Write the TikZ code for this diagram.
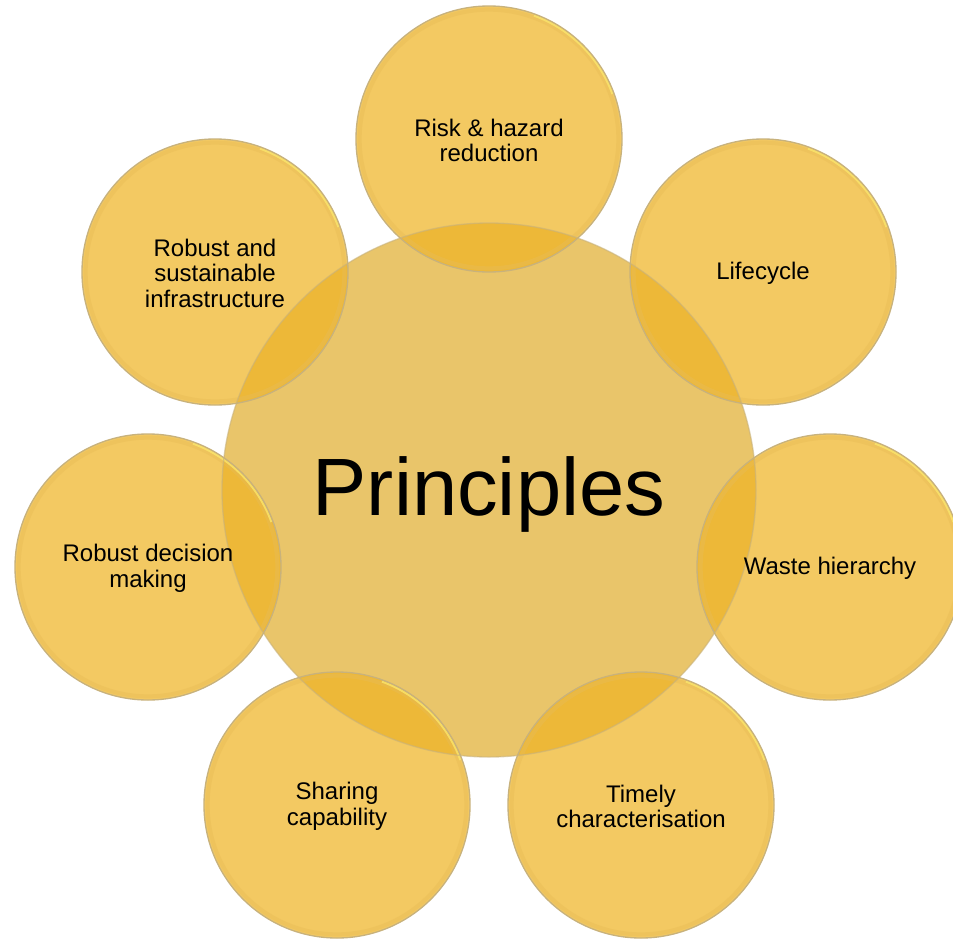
\documentclass[tikz,border=0pt]{standalone}
\usepackage{fontspec}
\setmainfont{Liberation Sans}
\definecolor{satfill}{HTML}{F3C962}
\definecolor{cenfill}{HTML}{E9C56A}
\definecolor{ovfill}{HTML}{EDB838}
\definecolor{rim}{HTML}{C8B27C}
\definecolor{innerring}{HTML}{E8BC56}
\definecolor{glow}{HTML}{FAE56C}
\pgfdeclarelayer{background}
\pgfsetlayers{background,main}
\begin{document}
\begin{tikzpicture}[x=0.75pt,y=-0.75pt,
  sattext/.style={align=center, font=\fontsize{18}{19}\selectfont, text=black, yshift=-1pt},
  centext/.style={font=\fontsize{61}{64}\selectfont, text=black, yshift=-3pt},
  rimline/.style={draw=rim, line width=1pt},
  ringline/.style={draw=innerring, line width=3pt, opacity=0.45}]
\useasboundingbox (0,0) rectangle (953,939);

\coordinate (c-cen) at (489,490);
\coordinate (c-risk) at (489,139);
\coordinate (c-life) at (763,272);
\coordinate (c-waste) at (830,567);
\coordinate (c-timely) at (641,805);
\coordinate (c-share) at (337,805);
\coordinate (c-decide) at (148,567);
\coordinate (c-infra) at (215,272);

\node[centext] (cen) at (c-cen) {Principles};
\node[sattext] (risk) at (c-risk) {Risk \& hazard\\reduction};
\node[sattext] (life) at (c-life) {Lifecycle};
\node[sattext] (waste) at (c-waste) {Waste hierarchy};
\node[sattext] (timely) at (c-timely) {Timely\\characterisation};
\node[sattext] (share) at (c-share) {Sharing\\capability};
\node[sattext] (decide) at (c-decide) {Robust decision\\making};
\node[sattext] (infra) at (c-infra) {Robust and\\sustainable\\infrastructure};

\begin{pgfonlayer}{background}
\fill[white] (0,0) rectangle (953,939);
\fill[cenfill] (c-cen) circle [radius=200.25pt];
\foreach \s in {risk,life,waste,timely,share,decide,infra}{
  \fill[satfill] (c-\s) circle [radius=99.75pt];
  \begin{scope}
    \clip (c-cen) circle [radius=200.25pt];
    \fill[ovfill] (c-\s) circle [radius=99.75pt];
  \end{scope}
}
\foreach \s in {risk,life,waste,timely,share,decide,infra}{
  \draw[ringline] (c-\s) circle [radius=97pt];
  \draw[glow, line width=1.5pt, opacity=0.8] ([shift={(20:98.5pt)}]c-\s) arc[start angle=20, end angle=70, radius=98.5pt];
  \draw[rimline] (c-\s) circle [radius=99.75pt];
}
\draw[rimline, draw opacity=0.6] (c-cen) circle [radius=200.25pt];
\end{pgfonlayer}
\end{tikzpicture}
\end{document}
